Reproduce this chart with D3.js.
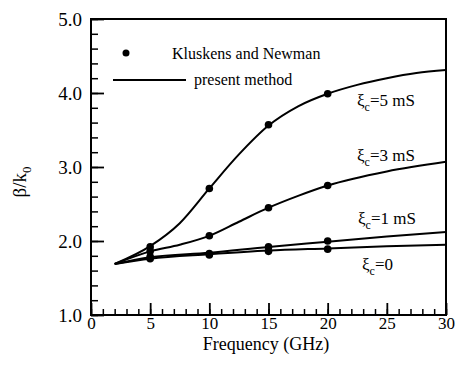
<!DOCTYPE html>
<html>
<head>
<meta charset="utf-8">
<script src="https://cdn.jsdelivr.net/npm/d3@7"></script>
<style>
  body { margin: 0; background: #fff; }
  text { font-family: "Liberation Serif", "Times New Roman", serif; fill: #000; }
</style>
</head>
<body>
<div class="main"></div>
<script>
// present method curves
const freqs5 = [2, 5, 7.5, 10, 12.5, 15, 17.5, 20, 22.5, 25, 27.5, 30];
const beta5 = [1.69, 1.93, 2.24, 2.71, 3.17, 3.56, 3.82, 3.99, 4.11, 4.20, 4.27, 4.31];
const freqs3 = [2, 5, 7.5, 10, 12.5, 15, 17.5, 20, 25, 30];
const beta3 = [1.69, 1.86, 1.95, 2.07, 2.26, 2.45, 2.61, 2.75, 2.94, 3.07];
const freqs1 = [2, 5, 10, 15, 20, 25, 30];
const beta1 = [1.69, 1.78, 1.84, 1.92, 1.99, 2.06, 2.12];
const freqs0 = [2, 5, 10, 15, 20, 25, 30];
const beta0 = [1.69, 1.76, 1.82, 1.87, 1.90, 1.93, 1.95];

// Kluskens and Newman points
const dotFreqs = [5, 10, 15, 20];
const dots5 = [1.92, 2.71, 3.57, 3.99];
const dots3 = [1.86, 2.07, 2.45, 2.75];
const dots1 = [1.79, 1.83, 1.92, 2.00];
const dots0 = [1.76, 1.81, 1.86, 1.89];

const xTicks = [0, 5, 10, 15, 20, 25, 30];
const yTicks = [1, 2, 3, 4, 5];

const width = 470, height = 378;
let svg = d3.select('.main').append('svg')
  .attr('width', width)
  .attr('height', height);

let x = d3.scaleLinear().domain([0, 30]).range([91, 446]);
let y = d3.scaleLinear().domain([1, 5]).range([315, 19]);

// frame
svg.append('rect')
  .attr('x', x(0)).attr('y', y(5))
  .attr('width', x(30) - x(0)).attr('height', y(1) - y(5))
  .attr('fill', 'none').attr('stroke', '#000').attr('stroke-width', 2);

// minor ticks
svg.append('g').attr('transform', `translate(0,${y(1)})`)
  .call(d3.axisBottom(x).tickValues(d3.range(0, 31)).tickSize(-6).tickFormat(''))
  .call(g => g.select('.domain').remove())
  .selectAll('line').attr('stroke-width', 1.5);
svg.append('g').attr('transform', `translate(${x(0)},0)`)
  .call(d3.axisLeft(y).tickValues(d3.range(10, 51, 2).map(d => d / 10)).tickSize(-7).tickFormat(''))
  .call(g => g.select('.domain').remove())
  .selectAll('line').attr('stroke-width', 1.5);

// major ticks + labels
let xAxis = svg.append('g').attr('transform', `translate(0,${y(1)})`)
  .call(d3.axisBottom(x).tickValues(xTicks).tickSize(-12).tickPadding(2).tickFormat(d3.format('d')));
xAxis.select('.domain').remove();
xAxis.selectAll('line').attr('stroke-width', 1.8);
xAxis.selectAll('text').attr('font-size', 17).attr('font-family', '"Liberation Serif", serif');

let yAxis = svg.append('g').attr('transform', `translate(${x(0)},0)`)
  .call(d3.axisLeft(y).tickValues(yTicks).tickSize(-13).tickPadding(9).tickFormat(d3.format('.1f')));
yAxis.select('.domain').remove();
yAxis.selectAll('line').attr('stroke-width', 1.8);
yAxis.selectAll('text').attr('font-size', 19).attr('font-family', '"Liberation Serif", serif');

// axis titles
svg.append('text')
  .attr('x', 266).attr('y', 350)
  .attr('text-anchor', 'middle').attr('font-size', 18)
  .text('Frequency (GHz)');

let yt = svg.append('text')
  .attr('transform', 'translate(26,182) rotate(-90)')
  .attr('text-anchor', 'middle').attr('font-size', 19);
yt.append('tspan').text('β/k');
yt.append('tspan').attr('dy', 5).attr('font-size', 13).text('0');

// curves
let line = d3.line().x(d => x(d[0])).y(d => y(d[1])).curve(d3.curveMonotoneX);
let curves = [[freqs5, beta5], [freqs3, beta3], [freqs1, beta1], [freqs0, beta0]];
svg.selectAll('path.curve').data(curves).enter().append('path')
  .attr('class', 'curve')
  .attr('d', d => line(d3.zip(d[0], d[1])))
  .attr('fill', 'none').attr('stroke', '#000').attr('stroke-width', 2);

// dots
let dotSets = [dots5, dots3, dots1, dots0];
dotSets.forEach(vals => {
  svg.selectAll(null).data(d3.zip(dotFreqs, vals)).enter().append('circle')
    .attr('cx', d => x(d[0])).attr('cy', d => y(d[1]))
    .attr('r', 3.8).attr('fill', '#000');
});

// legend
svg.append('circle').attr('cx', 126).attr('cy', 53).attr('r', 3.5).attr('fill', '#000');
svg.append('text').attr('x', 172).attr('y', 59).attr('font-size', 16).text('Kluskens and Newman');
svg.append('line').attr('x1', 113).attr('x2', 186).attr('y1', 80).attr('y2', 80)
  .attr('stroke', '#000').attr('stroke-width', 2);
svg.append('text').attr('x', 194).attr('y', 85).attr('font-size', 16).text('present method');

// curve labels
const curveLabels = ['=5 mS', '=3 mS', '=1 mS', '=0'];
const labelX = [357, 357, 358, 362];
const labelY = [106, 161, 224, 270];
curveLabels.forEach((lab, i) => {
  let t = svg.append('text').attr('x', labelX[i]).attr('y', labelY[i]).attr('font-size', 17);
  t.append('tspan').text('ξ');
  t.append('tspan').attr('dy', 5).attr('font-size', 12).text('c');
  t.append('tspan').attr('dy', -5).text(lab);
});
</script>
</body>
</html>
